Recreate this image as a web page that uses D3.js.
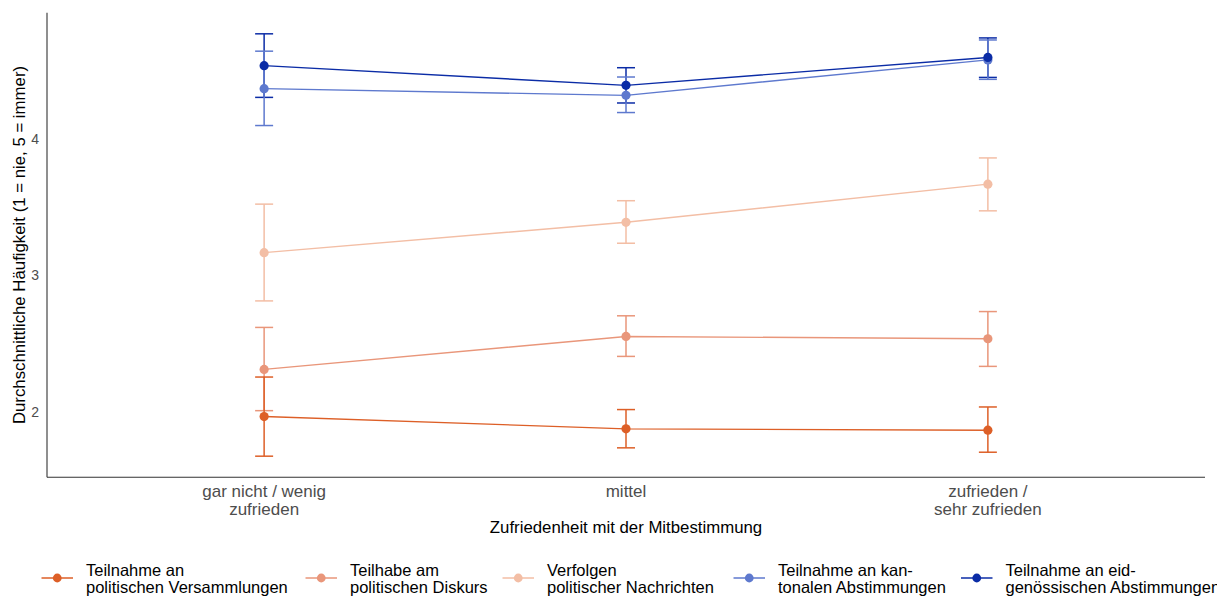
<!DOCTYPE html>
<html>
<head>
<meta charset="utf-8">
<script src="https://cdn.jsdelivr.net/npm/d3@7"></script>
<style>
  body { margin: 0; background: #fff; }
  svg { display: block; font-family: "Liberation Sans", Arial, sans-serif; }
</style>
</head>
<body>
<svg id="chart" width="1217" height="596"></svg>
<script>
// ---- Data ----
const categories = ["gar nicht / wenig\nzufrieden", "mittel", "zufrieden /\nsehr zufrieden"];
const seriesNames = [
  "Teilnahme an\npolitischen Versammlungen",
  "Teilhabe am\npolitischen Diskurs",
  "Verfolgen\npolitischer Nachrichten",
  "Teilnahme an kan-\ntonalen Abstimmungen",
  "Teilnahme an eid-\ngenössischen Abstimmungen"
];
const seriesColors = ["#DD5F27", "#E9967A", "#F3BEA5", "#5E79CE", "#0B2CA6"];
// means
const meanVersammlungen = [1.966, 1.876, 1.866];
const meanDiskurs       = [2.311, 2.552, 2.535];
const meanNachrichten   = [3.165, 3.387, 3.666];
const meanKantonal      = [4.365, 4.316, 4.575];
const meanEidg          = [4.533, 4.389, 4.593];
// lower / upper bounds of error bars
const lowVersammlungen  = [1.676, 1.737, 1.705];
const highVersammlungen = [2.255, 2.017, 2.036];
const lowDiskurs        = [2.009, 2.406, 2.333];
const highDiskurs       = [2.618, 2.703, 2.734];
const lowNachrichten    = [2.812, 3.234, 3.471];
const highNachrichten   = [3.520, 3.545, 3.858];
const lowKantonal       = [4.095, 4.190, 4.433];
const highKantonal      = [4.639, 4.450, 4.721];
const lowEidg           = [4.301, 4.260, 4.447];
const highEidg          = [4.766, 4.518, 4.736];
const yTicks = [2, 3, 4];
const xTitle = "Zufriedenheit mit der Mitbestimmung";
const yTitle = "Durchschnittliche Häufigkeit (1 = nie, 5 = immer)";

const means = [meanVersammlungen, meanDiskurs, meanNachrichten, meanKantonal, meanEidg];
const lows  = [lowVersammlungen, lowDiskurs, lowNachrichten, lowKantonal, lowEidg];
const highs = [highVersammlungen, highDiskurs, highNachrichten, highKantonal, highEidg];

const series = seriesNames.map((name, s) => ({
  name, color: seriesColors[s],
  values: categories.map((c, i) => ({ cat: c, mean: means[s][i], low: lows[s][i], high: highs[s][i] }))
}));

// ---- Layout ----
const svg = d3.select("#chart");
const plot = { left: 47, right: 1205, top: 12.7, bottom: 477.3 };

const x = d3.scalePoint().domain(categories).range([plot.left, plot.right]).padding(0.6);
const allVals = lows.flat().concat(highs.flat());
const ymin = d3.min(allVals), ymax = d3.max(allVals), pad = (ymax - ymin) * 0.05;
const y = d3.scaleLinear().domain([ymin - pad, ymax + pad]).range([plot.bottom, plot.top]);

// axes lines
svg.append("line").attr("x1", plot.left).attr("x2", plot.left).attr("y1", plot.top).attr("y2", plot.bottom)
  .attr("stroke", "#333").attr("stroke-width", 1.1);
svg.append("line").attr("x1", plot.left).attr("x2", plot.right).attr("y1", plot.bottom).attr("y2", plot.bottom)
  .attr("stroke", "#333").attr("stroke-width", 1.1);

// y ticks
const yAxis = d3.axisLeft(y).tickValues(yTicks).tickSize(0).tickPadding(8).tickFormat(d3.format("d"));
const gy = svg.append("g").attr("transform", `translate(${plot.left},0)`).call(yAxis);
gy.select(".domain").remove();
gy.selectAll("text").attr("fill", "#4D4D4D").style("font-size", "14px").attr("font-family", null);

// x ticks (multi-line)
const xAxis = d3.axisBottom(x).tickSize(0).tickFormat("");
const gx = svg.append("g").attr("transform", `translate(0,${plot.bottom})`).call(xAxis);
gx.select(".domain").remove();
categories.forEach(c => {
  const lines = c.split("\n");
  const t = svg.append("text").attr("x", x(c)).attr("y", 497)
    .attr("text-anchor", "middle").attr("fill", "#4D4D4D").style("font-size", "17px");
  lines.forEach((l, i) => t.append("tspan").attr("x", x(c)).attr("dy", i === 0 ? 0 : 18).text(l));
});

// axis titles
svg.append("text").attr("x", (plot.left + plot.right) / 2).attr("y", 533)
  .attr("text-anchor", "middle").attr("fill", "#000").style("font-size", "16.8px").text(xTitle);
svg.append("text").attr("transform", `translate(25,${(plot.top + plot.bottom) / 2}) rotate(-90)`)
  .attr("text-anchor", "middle").attr("fill", "#000").style("font-size", "16.8px").text(yTitle);

// lines
const line = d3.line().x(d => x(d.cat)).y(d => y(d.mean));
svg.append("g").selectAll("path").data(series).join("path")
  .attr("d", d => line(d.values)).attr("fill", "none")
  .attr("stroke", d => d.color).attr("stroke-width", 1.4);

// error bars (drawn last series first)
const capW = 9;
const eg = svg.append("g");
series.slice().reverse().forEach(s => {
  const g = eg.append("g").attr("stroke", s.color).attr("stroke-width", 1.5);
  s.values.forEach(v => {
    const cx = x(v.cat);
    g.append("line").attr("x1", cx).attr("x2", cx).attr("y1", y(v.low)).attr("y2", y(v.high));
    g.append("line").attr("x1", cx - capW).attr("x2", cx + capW).attr("y1", y(v.low)).attr("y2", y(v.low));
    g.append("line").attr("x1", cx - capW).attr("x2", cx + capW).attr("y1", y(v.high)).attr("y2", y(v.high));
  });
});

// points
series.forEach(s => {
  svg.append("g").selectAll("circle").data(s.values).join("circle")
    .attr("cx", d => x(d.cat)).attr("cy", d => y(d.mean)).attr("r", 4.6).attr("fill", s.color);
});

// legend
const keyX = [41.5, 305.5, 502.5, 733.5, 961];
const keyLen = 31.5;
const legendY = 578;
series.forEach((s, i) => {
  const g = svg.append("g").attr("transform", `translate(${keyX[i]},${legendY})`);
  g.append("line").attr("x1", 0).attr("x2", keyLen).attr("y1", 0).attr("y2", 0)
    .attr("stroke", s.color).attr("stroke-width", 1.5);
  g.append("circle").attr("cx", keyLen / 2).attr("cy", 0).attr("r", 4.4).attr("fill", s.color);
  const t = g.append("text").attr("x", 44.5).attr("y", -2.5).style("font-size", "16.5px").attr("fill", "#000");
  s.name.split("\n").forEach((l, k) => t.append("tspan").attr("x", 44.5).attr("dy", k === 0 ? 0 : 17.5).text(l));
});
</script>
</body>
</html>
